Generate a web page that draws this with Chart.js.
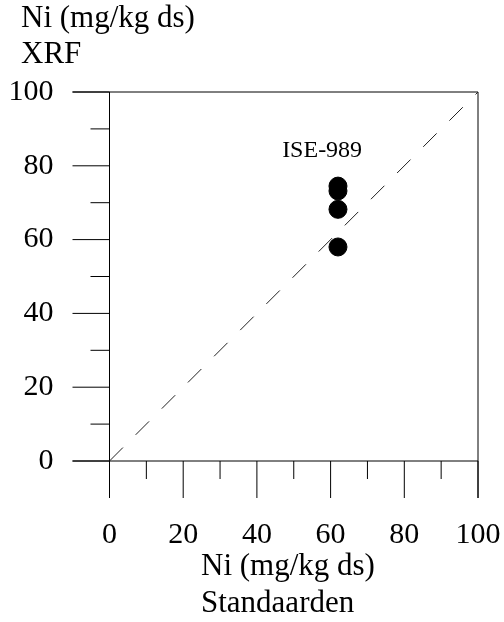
<!DOCTYPE html>
<html>
<head>
<meta charset="utf-8">
<title>Ni XRF vs Standaarden</title>
<script src="https://cdn.jsdelivr.net/npm/chart.js@4/dist/chart.umd.min.js"></script>
<style>
  html, body { margin: 0; padding: 0; background: #fff; }
  canvas { display: block; }
</style>
</head>
<body>
<canvas id="niChart" width="504" height="622"></canvas>
<script>
// Ni measured with XRF against the standard values
const standardValues = [62, 62, 62, 62];
const xrfValues = [74.5, 73.2, 68.2, 58.0];
const sampleName = 'ISE-989';
const samplePos = [57.7, 84.2]; // where the sample name sits (data units)

const majorTicks = [0, 20, 40, 60, 80, 100];
const minorTicks = [10, 30, 50, 70, 90];
const axisMin = 0;
const axisMax = 100;
const identityLine = [0, 100]; // y = x reference

const xTitle = ['Ni (mg/kg ds)', 'Standaarden'];
const yTitle = ['Ni (mg/kg ds)', 'XRF'];

const serif = '"Liberation Serif", "Times New Roman", serif';
const bigFont = { family: serif, size: 30, lineHeight: 1.2 };

// Box, outward ticks (long major, short minor) drawn from the scales
const frameAxes = {
    id: 'frameAxes',
    beforeDatasetsDraw(chart) {
        const { ctx, scales: { x, y } } = chart;
        const x0 = x.getPixelForValue(axisMin), x1 = x.getPixelForValue(axisMax);
        const y0 = y.getPixelForValue(axisMin), y1 = y.getPixelForValue(axisMax);
        const majorLen = 37;
        const minorLen = 18;

        ctx.save();
        ctx.strokeStyle = '#000';
        ctx.lineWidth = 1;
        ctx.beginPath();
        // top and bottom edges run out to the end of the y ticks
        ctx.moveTo(x0 - majorLen, y1); ctx.lineTo(x1, y1);
        ctx.moveTo(x0 - majorLen, y0); ctx.lineTo(x1, y0);
        // left and right edges run down to the end of the x ticks
        ctx.moveTo(x0, y1); ctx.lineTo(x0, y0 + majorLen);
        ctx.moveTo(x1, y1); ctx.lineTo(x1, y0 + majorLen);

        majorTicks.forEach(v => {
            const px = x.getPixelForValue(v);
            const py = y.getPixelForValue(v);
            ctx.moveTo(px, y0); ctx.lineTo(px, y0 + majorLen);
            ctx.moveTo(x0 - majorLen, py); ctx.lineTo(x0, py);
        });
        minorTicks.forEach(v => {
            const px = x.getPixelForValue(v);
            const py = y.getPixelForValue(v);
            ctx.moveTo(px, y0); ctx.lineTo(px, y0 + minorLen);
            ctx.moveTo(x0 - minorLen - 1, py); ctx.lineTo(x0, py);
        });
        ctx.stroke();
        ctx.restore();
    }
};

// Sample name above the points, axis titles (left aligned, as in the original)
const extraText = {
    id: 'extraText',
    afterDraw(chart) {
        const { ctx, scales: { x, y } } = chart;
        ctx.save();
        ctx.fillStyle = '#000';

        ctx.font = '24px ' + serif;
        ctx.textAlign = 'center';
        ctx.textBaseline = 'middle';
        ctx.fillText(sampleName, x.getPixelForValue(samplePos[0]), y.getPixelForValue(samplePos[1]));

        ctx.font = '31px ' + serif;
        ctx.textAlign = 'left';
        ctx.textBaseline = 'alphabetic';
        yTitle.forEach((line, i) => ctx.fillText(line, 21, 27 + i * 36));
        xTitle.forEach((line, i) => ctx.fillText(line, 201, 575 + i * 36.7));
        ctx.restore();
    }
};

const ctx = document.getElementById('niChart').getContext('2d');
new Chart(ctx, {
    type: 'scatter',
    data: {
        datasets: [
            {
                data: standardValues.map((v, i) => ({ x: v, y: xrfValues[i] })),
                pointRadius: 9,
                pointHoverRadius: 9,
                pointBackgroundColor: '#000',
                pointBorderColor: '#000',
                pointBorderWidth: 1,
                showLine: false
            },
            {
                data: identityLine.map(v => ({ x: v, y: v })),
                showLine: true,
                borderColor: '#222',
                borderWidth: 1,
                borderDash: [19, 18],
                pointRadius: 0,
                fill: false
            }
        ]
    },
    options: {
        responsive: false,
        animation: false,
        devicePixelRatio: 1,
        layout: { padding: { left: 0, right: 26, top: 92, bottom: 0 } },
        plugins: {
            legend: { display: false },
            tooltip: { enabled: false },
            title: { display: false }
        },
        scales: {
            x: {
                type: 'linear',
                min: axisMin,
                max: axisMax,
                afterBuildTicks: s => { s.ticks = majorTicks.map(v => ({ value: v })); },
                afterFit: s => {
                    s.height = 161;
                    s.paddingLeft = 22;
                    s.paddingRight = 22;
                },
                grid: { display: false, drawTicks: false },
                border: { display: false },
                ticks: { color: '#000', font: bigFont, padding: 56, maxRotation: 0, autoSkip: false },
                title: { display: false }
            },
            y: {
                type: 'linear',
                min: axisMin,
                max: axisMax,
                afterBuildTicks: s => { s.ticks = majorTicks.map(v => ({ value: v })); },
                afterFit: s => {
                    s.width = 109.5;
                    s.paddingTop = 18;
                    s.paddingBottom = 18;
                },
                grid: { display: false, drawTicks: false },
                border: { display: false },
                ticks: { color: '#000', font: bigFont, padding: 56, autoSkip: false }
            }
        }
    },
    plugins: [frameAxes, extraText]
});
</script>
</body>
</html>
